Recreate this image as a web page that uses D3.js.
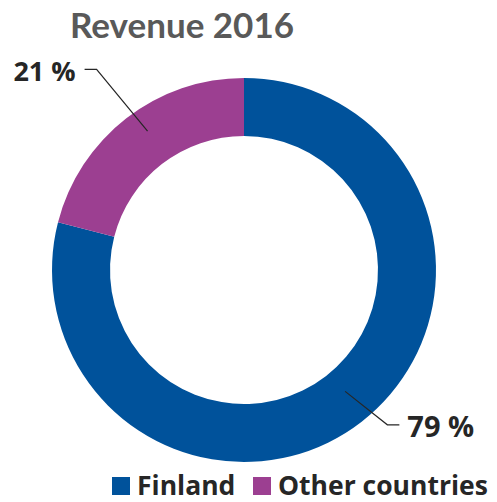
<!DOCTYPE html>
<html>
<head>
<meta charset="utf-8">
<script src="https://cdn.jsdelivr.net/npm/d3@7"></script>
<style>
  html, body { margin: 0; padding: 0; background: #fff; }
  svg text { font-family: "Open Sans", Lato, sans-serif; font-weight: 700; }
  svg text.title { font-family: Lato, "Open Sans", sans-serif; }
</style>
</head>
<body>
<svg id="chart" width="497" height="502"></svg>
<script>
// Revenue split by market
const categories = ["Finland", "Other countries"];
const values = [79, 21];
const valueLabels = ["79 %", "21 %"];
const colors = ["#00529B", "#9C3F91"];
const title = "Revenue 2016";

const svg = d3.select("#chart");
const cx = 244, cy = 270;
const outerR = 192, innerR = 134;

svg.append("text")
  .attr("class", "title")
  .attr("x", 182).attr("y", 38)
  .attr("text-anchor", "middle")
  .attr("font-size", 35)
  .attr("fill", "#595959")
  .text(title);

const pie = d3.pie().sort(null).value(d => d);
const arcs = pie(values);
const arc = d3.arc().innerRadius(innerR).outerRadius(outerR);

const g = svg.append("g").attr("transform", `translate(${cx},${cy})`);
g.selectAll("path.slice")
  .data(arcs)
  .join("path")
  .attr("class", "slice")
  .attr("d", arc)
  .attr("fill", (d, i) => colors[i]);

// Leader lines: from inside the ring outward, then a short horizontal tail
const mid = d => (d.startAngle + d.endAngle) / 2;
const polar = (a, r) => [Math.sin(a) * r, -Math.cos(a) * r];
const deg = Math.PI / 180;
const labelCfg = [
  { a0: -2 * deg, a1: -5 * deg, r0: 158, r1: 211, tail: 12, pad: 8, size: 29 },
  { a0: 3 * deg, a1: 1.5 * deg, r0: 169, r1: 249, tail: -12, pad: -9, size: 27 }
];
arcs.forEach((d, i) => {
  const c = labelCfg[i];
  const a = mid(d);
  const p0 = polar(a + c.a0, c.r0);
  const p1 = polar(a + c.a1, c.r1);
  const p2 = [p1[0] + c.tail, p1[1]];
  g.append("polyline")
    .attr("points", [p0, p1, p2].map(p => p.join(",")).join(" "))
    .attr("fill", "none")
    .attr("stroke", "#262626")
    .attr("stroke-width", 1.2);
  g.append("text")
    .attr("x", p2[0] + c.pad)
    .attr("y", p2[1] + 12)
    .attr("text-anchor", c.tail > 0 ? "start" : "end")
    .attr("font-size", c.size)
    .attr("fill", "#262626")
    .text(valueLabels[i]);
});

// Legend along the bottom
const legendX = [112, 253];
const legend = svg.append("g");
categories.forEach((name, i) => {
  legend.append("rect")
    .attr("x", legendX[i]).attr("y", 477)
    .attr("width", 18).attr("height", 18)
    .attr("fill", colors[i]);
  legend.append("text")
    .attr("x", legendX[i] + 25).attr("y", 495)
    .attr("font-size", 26.5)
    .attr("fill", "#262626")
    .text(name);
});
</script>
</body>
</html>
